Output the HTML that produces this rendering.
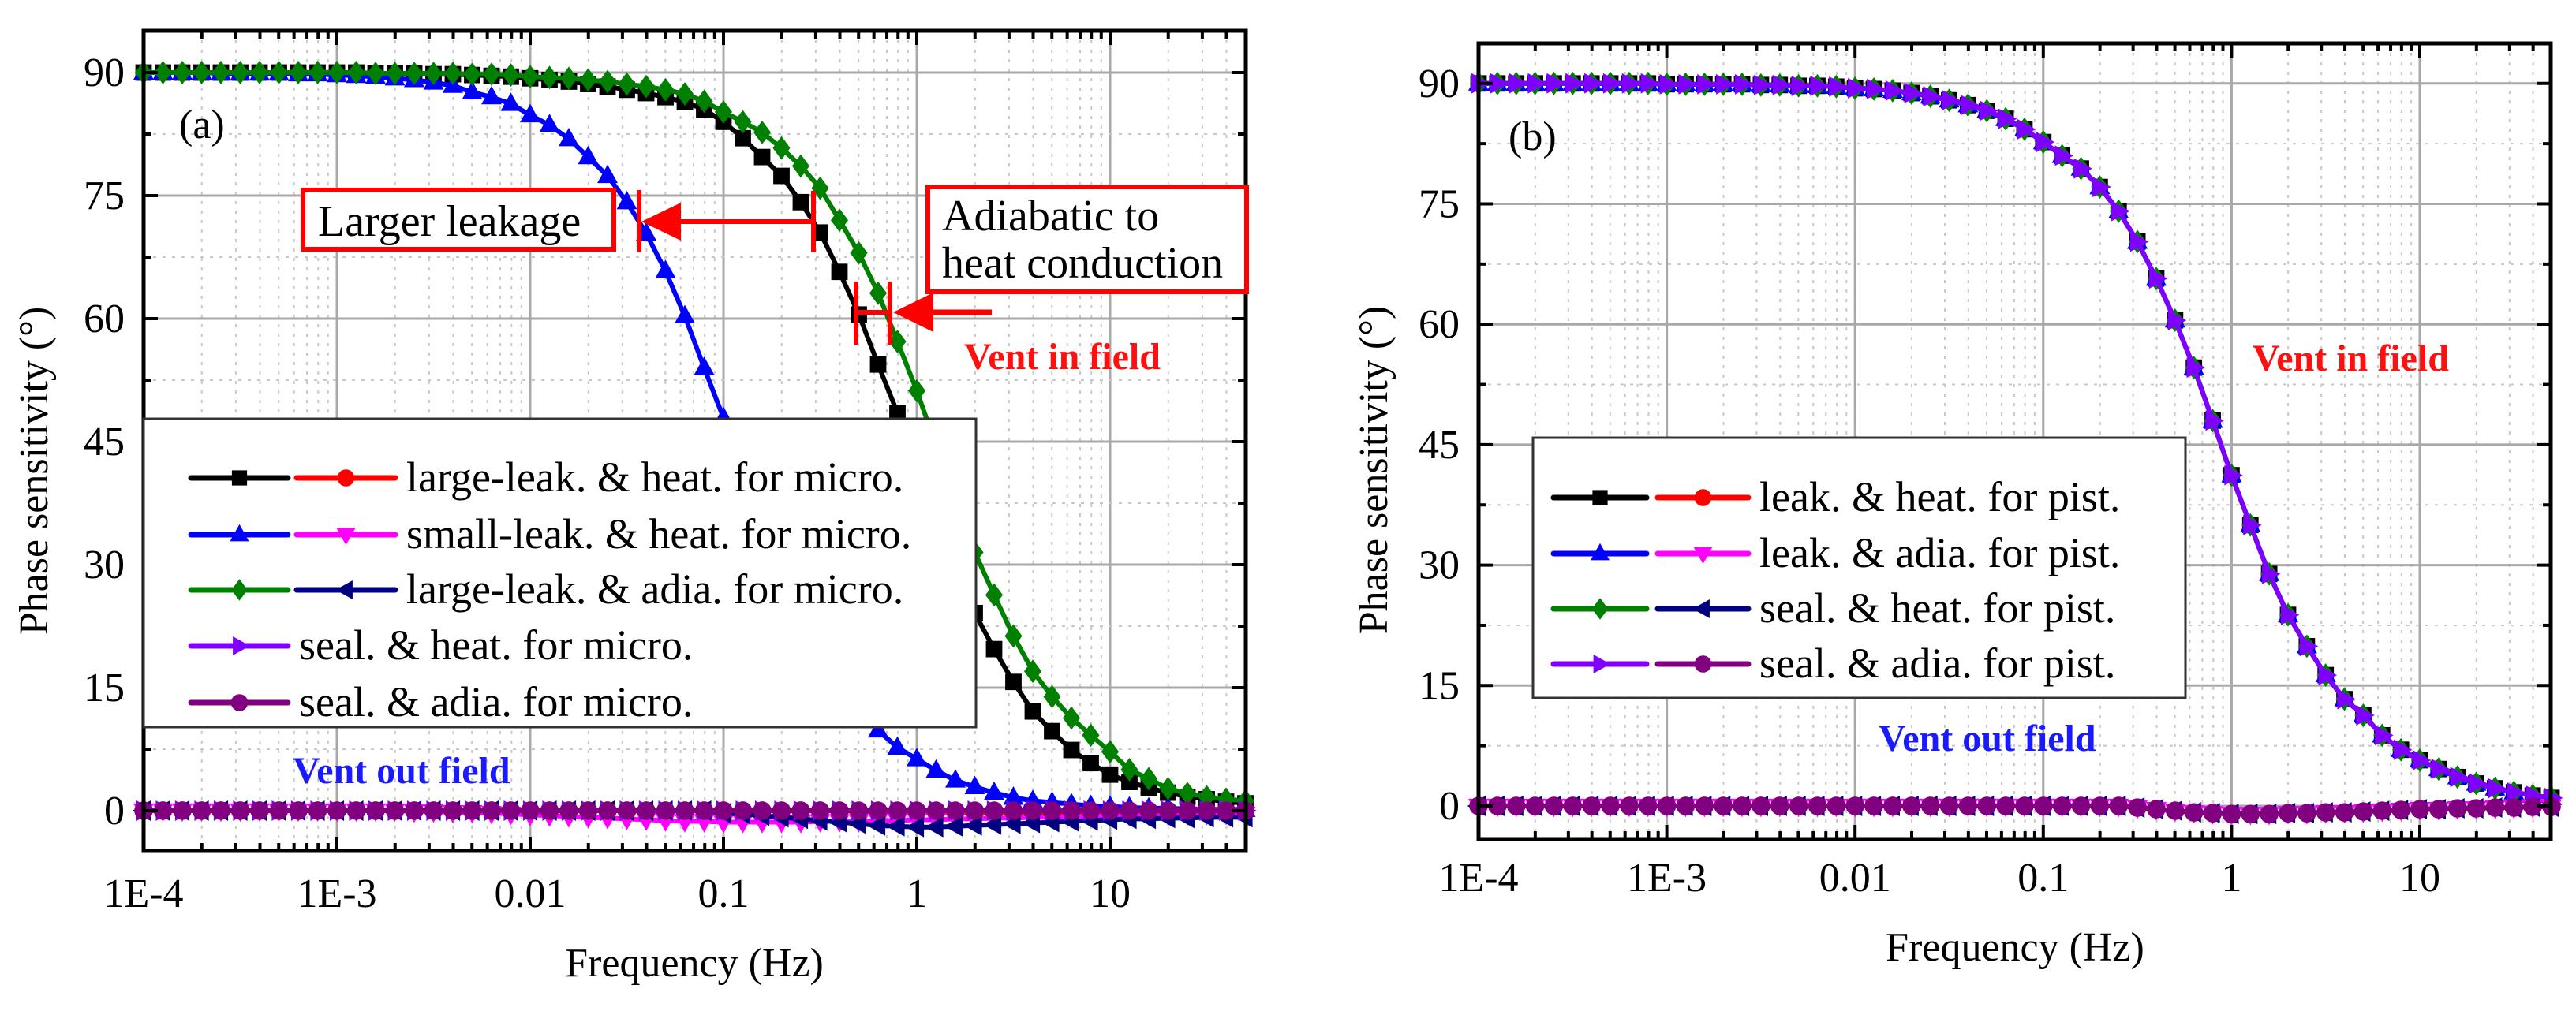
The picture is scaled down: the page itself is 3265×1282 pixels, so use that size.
<!DOCTYPE html>
<html><head><meta charset="utf-8"><style>
html,body{margin:0;padding:0;background:#fff;}
svg{display:block;}
svg text{font-family:"Liberation Serif","Times New Roman",serif;}
</style></head>
<body>
<svg id="chart" width="3265" height="1282" viewBox="0 0 3265 1282" xmlns="http://www.w3.org/2000/svg" font-family="Liberation Serif, serif">
<rect x="0" y="0" width="3265" height="1282" fill="#fff"/>
</svg>
<script>
// ---- data ----
const logFreq = [-4.0,-3.9,-3.8,-3.7,-3.6,-3.5,-3.4,-3.3,-3.2,-3.1,-3.0,-2.9,-2.8,-2.7,-2.6,-2.5,-2.4,-2.3,-2.2,-2.1,-2.0,-1.9,-1.8,-1.7,-1.6,-1.5,-1.4,-1.3,-1.2,-1.1,-1.0,-0.9,-0.8,-0.7,-0.6,-0.5,-0.4,-0.3,-0.2,-0.1,0.0,0.1,0.2,0.3,0.4,0.5,0.6,0.7,0.8,0.9,1.0,1.1,1.2,1.3,1.4,1.5,1.6,1.7];
const xTickLabels = ["1E-4","1E-3","0.01","0.1","1","10"];
const yTickLabels = [0,15,30,45,60,75,90];
// panel (a)
const aLargeLeakHeat = [90,90,90,90,90,90,90,90,90,90,90,90,89.9,89.9,89.9,89.8,89.8,89.7,89.6,89.5,89.3,89.1,88.9,88.6,88.3,87.9,87.5,87.0,86.4,85.5,84.0,82.0,79.7,77.4,74.2,70.5,65.7,60.5,54.4,48.5,42,36,30,24.1,19.7,15.7,12.1,9.7,7.4,5.8,4.4,3.5,2.8,2.2,1.7,1.4,1.1,0.9];
const aSmallLeakHeat = [90,90,90,90,89.9,89.9,89.9,89.9,89.8,89.8,89.7,89.6,89.5,89.3,89.1,88.8,88.4,87.6,87.0,86.2,84.8,83.6,81.9,79.7,77.4,74.2,70.4,65.8,60.3,54.0,47.9,41.5,35,29,23.5,18.5,14.8,12,9.8,7.7,6.3,4.9,3.7,2.9,2.2,1.6,1.2,1.0,0.8,0.6,0.5,0.4,0.3,0.3,0.2,0.2,0.1,0.1];
const aLargeLeakAdia = [90,90,90,90,90,90,90,90,90,90,90,90,89.9,89.9,89.9,89.9,89.9,89.8,89.8,89.7,89.5,89.4,89.3,89.1,88.9,88.6,88.3,87.9,87.4,86.5,85.2,84.0,82.7,80.8,78.6,75.9,72.0,68.0,63.1,57.2,51.2,44.5,38,31.5,26.3,21.3,17.0,13.9,11.3,9.2,7.2,5.0,3.9,2.7,2.1,1.7,1.4,1.2];
const aFlatRed = [0,0,0,0,0,0,0,0,0,0,0,0,0,0,0,0,0,0,0,0,0,0,0,0,0,0,0,0,0,0,0,0,0,0,0,0,0,-0.1,-0.1,-0.2,-0.2,-0.2,-0.2,-0.2,-0.2,-0.2,-0.2,-0.2,-0.2,-0.2,-0.2,-0.1,-0.1,-0.1,-0.1,-0.1,-0.1,-0.1];
const aFlatMagenta = [0,0,0,0,0,0,0,0,0,0,0,0,0,0,-0.1,-0.1,-0.2,-0.2,-0.3,-0.4,-0.5,-0.6,-0.7,-0.8,-0.9,-1.0,-1.1,-1.2,-1.3,-1.3,-1.4,-1.4,-1.4,-1.4,-1.4,-1.3,-1.3,-1.3,-1.2,-1.2,-1.1,-1.1,-1.0,-1.0,-0.9,-0.9,-0.8,-0.8,-0.7,-0.7,-0.6,-0.6,-0.5,-0.5,-0.5,-0.4,-0.4,-0.4];
const aFlatNavy = [0,0,0,0,0,0,0,0,0,0,0,0,0,0,0,0,0,0,0,0,0,0,0,0,0,0,0,0,0,0,-0.3,-0.4,-0.6,-0.8,-1.0,-1.2,-1.4,-1.6,-1.8,-1.9,-2.0,-2.0,-1.9,-1.8,-1.7,-1.6,-1.5,-1.4,-1.3,-1.2,-1.1,-1.0,-1.0,-0.9,-0.9,-0.8,-0.8,-0.8];
const aFlatPurple = [0,0,0,0,0,0,0,0,0,0,0,0,0,0,0,0,0,0,0,0,0,0,0,0,0,0,0,0,0,0,0,0,0,0,0,0,0,0,0,0,0,0,0,0,0,0,0,0,0,0,0,0,0,0,0,0,0,0];
const aFlatDarkMagenta = [0,0,0,0,0,0,0,0,0,0,0,0,0,0,0,0,0,0,0,0,0,0,0,0,0,0,0,0,0,0,0,0,0,0,0,0,0,0,0,0,0,0,0,0,0,0,0,0,0,0,0,0,0,0,0,0,0,0];
// panel (b)
const bMainCurve = [90,90,90,90,90,90,90,90,90,90,89.9,89.9,89.9,89.9,89.9,89.8,89.8,89.7,89.7,89.6,89.4,89.3,89.1,88.8,88.4,87.9,87.3,86.6,85.6,84.3,82.7,81.0,79.4,77.1,74.1,70.3,65.7,60.5,54.6,48.0,41.2,35,28.9,23.8,19.9,16.3,13.3,11.3,8.8,7.0,5.7,4.6,3.6,2.8,2.2,1.7,1.3,1.0];
const bFlatCurve = [0,0,0,0,0,0,0,0,0,0,0,0,0,0,0,0,0,0,0,0,0,0,0,0,0,0,0,0,0,0,0,0,0,0,0,-0.2,-0.4,-0.6,-0.8,-0.9,-1.0,-1.0,-1.0,-0.9,-0.9,-0.8,-0.8,-0.7,-0.6,-0.5,-0.4,-0.4,-0.3,-0.3,-0.2,-0.2,-0.1,-0.1];

const NS = "http://www.w3.org/2000/svg";
const svg = document.getElementById('chart');
const FF = '"Liberation Serif", "Times New Roman", serif';
function mk(tag, attrs, parent){
  const e = document.createElementNS(NS, tag);
  for (const k in attrs) e.setAttribute(k, attrs[k]);
  if (tag==='text') e.setAttribute('font-family', FF);
  (parent||svg).appendChild(e);
  return e;
}

function marker(g, shape, cx, cy, s, color){
  let e;
  if (shape==='square') e = mk('rect',{x:cx-s*0.8,y:cy-s*0.8,width:s*1.6,height:s*1.6,fill:color},g);
  else if (shape==='circle') e = mk('circle',{cx:cx,cy:cy,r:s*0.9,fill:color},g);
  else {
    let p;
    if (shape==='up') p=[[cx,cy-s*1.1],[cx-s,cy+s*0.7],[cx+s,cy+s*0.7]];
    else if (shape==='down') p=[[cx,cy+s*1.1],[cx-s,cy-s*0.7],[cx+s,cy-s*0.7]];
    else if (shape==='left') p=[[cx-s*1.1,cy],[cx+s*0.7,cy-s],[cx+s*0.7,cy+s]];
    else if (shape==='right') p=[[cx+s*1.1,cy],[cx-s*0.7,cy-s],[cx-s*0.7,cy+s]];
    else p=[[cx,cy-s*1.15],[cx+s*0.85,cy],[cx,cy+s*1.15],[cx-s*0.85,cy]];
    e = mk('polygon',{points:p.map(q=>q.join(',')).join(' '),fill:color},g);
  }
  return e;
}

function panel(cfg){
  const g = mk('g',{});
  
  
  const xs = lg => cfg.xL + (lg - (-4)) * cfg.dec;
  const ys = v => cfg.y0 - v * cfg.k;
  const L=cfg.xL, R=cfg.xR, T=cfg.yT, B=cfg.yB;
  const grid = mk('g',{},g);
  
  
  for (let d=-4; d<=1; d++){
    for (let m=2; m<=9; m++){
      const x = xs(d+Math.log10(m));
      if (x<R) mk('line',{x1:x,y1:T,x2:x,y2:B,stroke:'#c8c8c8','stroke-width':2,'stroke-dasharray':'4 8'},grid);
    }
    if (d>-4) mk('line',{x1:xs(d),y1:T,x2:xs(d),y2:B,stroke:'#a8a8a8','stroke-width':3},grid);
  }
  for (let v=-7.5; v<=95; v+=7.5){
    const y = ys(v);
    if (y<=T||y>=B) continue;
    if (Math.round(v/15)*15===v) mk('line',{x1:L,y1:y,x2:R,y2:y,stroke:'#a8a8a8','stroke-width':3},grid);
    else mk('line',{x1:L,y1:y,x2:R,y2:y,stroke:'#c8c8c8','stroke-width':2,'stroke-dasharray':'4 8'},grid);
  }
  cfg.series.forEach(s=>{
    const sg = mk('g',{},g);
    
    
    const pts = logFreq.map((lf,i)=>[xs(lf), ys(s.data[i])]);
    mk('polyline',{points:pts.map(p=>p.join(',')).join(' '),fill:'none',stroke:s.color,'stroke-width':6,'stroke-linejoin':'round'},sg);
    pts.forEach(p=>marker(sg, s.shape, p[0], p[1], cfg.ms, s.color));
  });
  mk('rect',{x:L,y:T,width:R-L,height:B-T,fill:'none',stroke:'#000','stroke-width':5},g);
  const tk = mk('g',{},g);
  
  
  for (let d=-4; d<=1; d++){
    for (let m=1; m<=9; m++){
      const x = xs(d+Math.log10(m));
      if (x>=R-1) continue;
      const len = m===1?18:10;
      mk('line',{x1:x,y1:B,x2:x,y2:B-len,stroke:'#000','stroke-width':4},tk);
      mk('line',{x1:x,y1:T,x2:x,y2:T+len,stroke:'#000','stroke-width':4},tk);
    }
  }
  for (let v=-7.5; v<=95; v+=7.5){
    const y=ys(v); if (y<=T||y>=B) continue;
    const len = (v%15===0)?18:10;
    mk('line',{x1:L,y1:y,x2:L+len,y2:y,stroke:'#000','stroke-width':4},tk);
    mk('line',{x1:R,y1:y,x2:R-len,y2:y,stroke:'#000','stroke-width':4},tk);
  }
  xTickLabels.forEach((t,i)=>{
    const e = mk('text',{x:xs(-4+i),y:cfg.xLabY,'font-size':52,'text-anchor':'middle',fill:'#000'},g);
    
    
    e.textContent=t;
  });
  yTickLabels.forEach(v=>{
    const e = mk('text',{x:L-24,y:ys(v)+17,'font-size':52,'text-anchor':'end',fill:'#000'},g);
    
    
    e.textContent=v;
  });
  const xt = mk('text',{x:cfg.xTitleX,y:cfg.xTitleY,'font-size':52,'text-anchor':'middle',fill:'#000'},g);
  
  
  xt.textContent='Frequency (Hz)';
  const yt = mk('text',{x:0,y:0,'font-size':52,'text-anchor':'middle',fill:'#000',transform:`translate(${cfg.yTitleX},${cfg.yTitleY}) rotate(-90)`},g);
  
  
  yt.textContent='Phase sensitivity (°)';
  const pl = mk('text',{x:cfg.letterX,y:cfg.letterY,'font-size':52,fill:'#000'},g);
  
  
  pl.textContent=cfg.letter;
  const vi = mk('text',{x:cfg.ventInX,y:cfg.ventInY,'font-size':48,'font-weight':'bold',fill:'#ff1010'},g);
  
  
  vi.textContent='Vent in field';
  const vo = mk('text',{x:cfg.ventOutX,y:cfg.ventOutY,'font-size':48,'font-weight':'bold',fill:'#1a1aff'},g);
  
  
  vo.textContent='Vent out field';
  const lg = mk('g',{},g);
  
  
  const lb = cfg.legend;
  mk('rect',{x:lb.x,y:lb.y,width:lb.w,height:lb.h,fill:'#fff',stroke:'#333','stroke-width':3},lg);
  lb.rows.forEach((row,ri)=>{
    const ry = lb.rowY[ri];
    const re = mk('g',{},lg);
    
    
    row.items.forEach((it,j)=>{
      const x1 = lb.segX[j][0], x2 = lb.segX[j][1];
      mk('line',{x1:x1,y1:ry,x2:x2,y2:ry,stroke:it.color,'stroke-width':7,'stroke-linecap':'round'},re);
      marker(re, it.shape, (x1+x2)/2, ry, 12, it.color);
    });
    const t = mk('text',{x:lb.segX[row.items.length-1][1]+14,y:ry+17,'font-size':54,fill:'#000'},re);
    t.textContent=row.label;
  });
  return g;
}

const C = {black:'#000',red:'#ff0000',blue:'#0000ff',magenta:'#ff00ff',green:'#008000',navy:'#000080',purple:'#8000ff',dmag:'#800080'};

panel({
  name:'panel-a', xL:182, xR:1579, yT:39, yB:1079, dec:245, y0:1028, k:10.4, ms:13,
  xLabY:1150, xTitleX:880, xTitleY:1238, yTitleX:60, yTitleY:597,
  letter:'(a)', letterX:227, letterY:175,
  ventInX:1222, ventInY:468, ventOutX:371, ventOutY:993,
  series:[
    {name:'series-large-leak-heat-micro',data:aLargeLeakHeat,color:C.black,shape:'square'},
    {name:'series-small-leak-heat-micro',data:aSmallLeakHeat,color:C.blue,shape:'up'},
    {name:'series-large-leak-adia-micro',data:aLargeLeakAdia,color:C.green,shape:'diamond'},
    {name:'series-red-flat-micro',data:aFlatRed,color:C.red,shape:'circle'},
    {name:'series-magenta-flat-micro',data:aFlatMagenta,color:C.magenta,shape:'down'},
    {name:'series-navy-flat-micro',data:aFlatNavy,color:C.navy,shape:'left'},
    {name:'series-seal-heat-micro',data:aFlatPurple,color:C.purple,shape:'right'},
    {name:'series-seal-adia-micro',data:aFlatDarkMagenta,color:C.dmag,shape:'circle'}
  ],
  legend:{x:182,y:531,w:1055,h:391,rowY:[606,678,748,819,891],segX:[[242,365],[376,501]],
    rows:[
      {label:'large-leak. & heat. for micro.',items:[{color:C.black,shape:'square'},{color:C.red,shape:'circle'}]},
      {label:'small-leak. & heat. for micro.',items:[{color:C.blue,shape:'up'},{color:C.magenta,shape:'down'}]},
      {label:'large-leak. & adia. for micro.',items:[{color:C.green,shape:'diamond'},{color:C.navy,shape:'left'}]},
      {label:'seal. & heat. for micro.',items:[{color:C.purple,shape:'right'}]},
      {label:'seal. & adia. for micro.',items:[{color:C.dmag,shape:'circle'}]}
    ]}
});

panel({
  name:'panel-b', xL:1874, xR:3233, yT:55, yB:1064, dec:238.6, y0:1022, k:10.18, ms:13,
  xLabY:1130, xTitleX:2554, xTitleY:1218, yTitleX:1758, yTitleY:596,
  letter:'(b)', letterX:1912, letterY:190,
  ventInX:2855, ventInY:470, ventOutX:2381, ventOutY:952,
  series:[
    {name:'series-leak-heat-pist',data:bMainCurve,color:C.black,shape:'square'},
    {name:'series-leak-adia-pist',data:bMainCurve,color:C.blue,shape:'up'},
    {name:'series-seal-heat-pist',data:bMainCurve,color:C.green,shape:'diamond'},
    {name:'series-red-flat-pist',data:bFlatCurve,color:C.red,shape:'circle'},
    {name:'series-magenta-flat-pist',data:bFlatCurve,color:C.magenta,shape:'down'},
    {name:'series-navy-flat-pist',data:bFlatCurve,color:C.navy,shape:'left'},
    {name:'series-seal-adia-pist',data:bMainCurve,color:C.purple,shape:'right'},
    {name:'series-dark-magenta-flat-pist',data:bFlatCurve,color:C.dmag,shape:'circle'}
  ],
  legend:{x:1943,y:555,w:827,h:330,rowY:[631,702,772,842],segX:[[1969,2087],[2101,2216]],
    rows:[
      {label:'leak. & heat. for pist.',items:[{color:C.black,shape:'square'},{color:C.red,shape:'circle'}]},
      {label:'leak. & adia. for pist.',items:[{color:C.blue,shape:'up'},{color:C.magenta,shape:'down'}]},
      {label:'seal. & heat. for pist.',items:[{color:C.green,shape:'diamond'},{color:C.navy,shape:'left'}]},
      {label:'seal. & adia. for pist.',items:[{color:C.purple,shape:'right'},{color:C.dmag,shape:'circle'}]}
    ]}
});

const an = mk('g',{});


mk('rect',{x:384,y:241,width:394,height:75,fill:'#fff',stroke:'#ff0000','stroke-width':6},an);
const t1 = mk('text',{x:403,y:299,'font-size':56,fill:'#000'},an);


t1.textContent='Larger leakage';
mk('line',{x1:810,y1:241,x2:810,y2:320,stroke:'#ff0000','stroke-width':6},an);
mk('line',{x1:1031,y1:242,x2:1031,y2:320,stroke:'#ff0000','stroke-width':6},an);
mk('line',{x1:1031,y1:281,x2:855,y2:281,stroke:'#ff0000','stroke-width':6},an);
mk('polygon',{points:'813,281 863,257 863,305',fill:'#ff0000'},an);
mk('rect',{x:1176,y:237,width:404,height:133,fill:'#fff',stroke:'#ff0000','stroke-width':6},an);
const t2 = mk('text',{x:1194,y:292,'font-size':56,fill:'#000'},an);


t2.textContent='Adiabatic to';
const t3 = mk('text',{x:1194,y:352,'font-size':56,fill:'#000'},an);


t3.textContent='heat conduction';
mk('line',{x1:1085,y1:357,x2:1085,y2:437,stroke:'#ff0000','stroke-width':6},an);
mk('line',{x1:1128,y1:357,x2:1128,y2:437,stroke:'#ff0000','stroke-width':6},an);
mk('line',{x1:1085,y1:396,x2:1128,y2:396,stroke:'#ff0000','stroke-width':6},an);
mk('line',{x1:1257,y1:396,x2:1175,y2:396,stroke:'#ff0000','stroke-width':7},an);
mk('polygon',{points:'1132,396 1183,371 1183,421',fill:'#ff0000'},an);
</script>
</body></html>
